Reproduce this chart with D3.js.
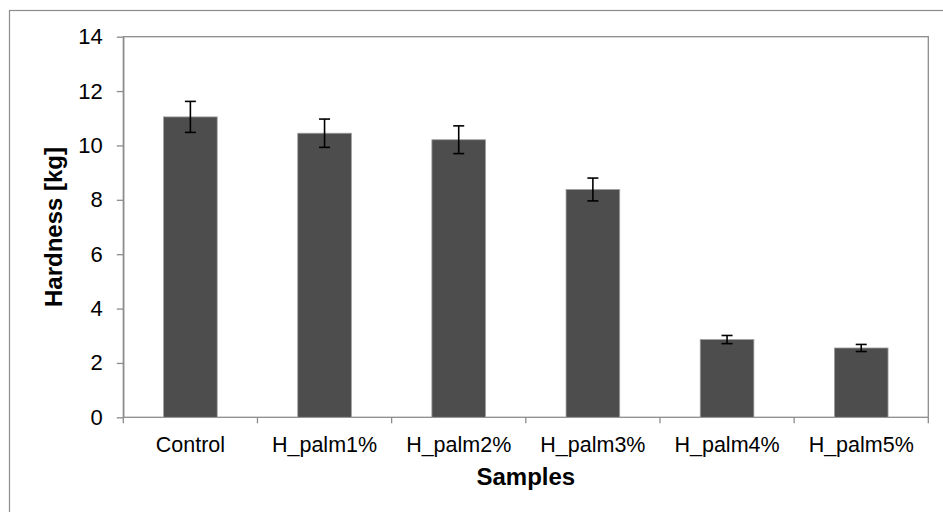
<!DOCTYPE html>
<html>
<head>
<meta charset="utf-8">
<script src="https://cdn.jsdelivr.net/npm/d3@7"></script>
<style>
body { margin: 0; background: #fff; }
svg { display: block; font-family: "Liberation Sans", Arial, sans-serif; }
</style>
</head>
<body>
<svg id="chart" width="943" height="512"></svg>
<script>
var samples = ["Control", "H_palm1%", "H_palm2%", "H_palm3%", "H_palm4%", "H_palm5%"];
var hardness = [11.05, 10.45, 10.21, 8.38, 2.86, 2.55];
var errors = [0.57, 0.52, 0.51, 0.42, 0.15, 0.13];
var yTicks = [0, 2, 4, 6, 8, 10, 12, 14];

var svg = d3.select("#chart");
// plot area edges (window.top is taken, so no "top" here)
var plotL = 123.3, plotR = 928.3, plotT = 36.7, plotB = 417.3;

// outer frame, only the left and top edges show in the picture
svg.append("rect")
	.attr("x", 9.5).attr("y", 10.5)
	.attr("width", 960).attr("height", 540)
	.attr("fill", "none").attr("stroke", "#8c8c8c").attr("stroke-width", 1.2);

var x = d3.scaleBand().domain(samples).range([plotL, plotR]).paddingInner(0.6).paddingOuter(0.3);
var y = d3.scaleLinear().domain([0, 14]).range([plotB, plotT]);

// plot frame
svg.append("rect")
	.attr("x", plotL).attr("y", plotT)
	.attr("width", plotR - plotL).attr("height", plotB - plotT)
	.attr("fill", "none").attr("stroke", "#8c8c8c").attr("stroke-width", 1.3);

svg.selectAll(".bar").data(samples).enter().append("rect")
	.attr("class", "bar")
	.attr("x", function(d){ return x(d); })
	.attr("y", function(d, i){ return y(hardness[i]); })
	.attr("width", x.bandwidth())
	.attr("height", function(d, i){ return y(0) - y(hardness[i]); })
	.attr("fill", "#4d4d4d")
	.attr("stroke", "#a0a0a0").attr("stroke-width", 0.8);

// error bars
var err = svg.selectAll(".err").data(samples).enter().append("g").attr("class", "err")
	.attr("stroke", "#000").attr("stroke-width", 1.6);
err.append("line")
	.attr("x1", function(d){ return x(d) + x.bandwidth()/2; })
	.attr("x2", function(d){ return x(d) + x.bandwidth()/2; })
	.attr("y1", function(d, i){ return y(hardness[i] + errors[i]); })
	.attr("y2", function(d, i){ return y(hardness[i] - errors[i]); });
[1, -1].forEach(function(s){
	err.append("line")
		.attr("x1", function(d){ return x(d) + x.bandwidth()/2 - 5.5; })
		.attr("x2", function(d){ return x(d) + x.bandwidth()/2 + 5.5; })
		.attr("y1", function(d, i){ return y(hardness[i] + s*errors[i]); })
		.attr("y2", function(d, i){ return y(hardness[i] + s*errors[i]); });
});

// y axis
var yAxis = svg.append("g").attr("transform", "translate(" + plotL + ",0)")
	.call(d3.axisLeft(y).tickValues(yTicks).tickSize(6.5).tickPadding(14).tickSizeOuter(0));
yAxis.select(".domain").attr("stroke", "#8c8c8c").attr("stroke-width", 1.3);
yAxis.selectAll(".tick line").attr("stroke", "#8c8c8c").attr("stroke-width", 1.3);
yAxis.selectAll("text").attr("font-size", "22px").attr("fill", "#000")
	.attr("font-family", "Liberation Sans, Arial, sans-serif");

// x axis labels
var xAxis = svg.append("g").attr("transform", "translate(0," + plotB + ")")
	.call(d3.axisBottom(x).tickSize(0).tickPadding(19.7));
xAxis.select(".domain").remove();
xAxis.selectAll("text").attr("font-size", "21.5px").attr("fill", "#000")
	.attr("font-family", "Liberation Sans, Arial, sans-serif");

// x ticks at category boundaries
svg.selectAll(".xb").data(d3.range(samples.length + 1)).enter().append("line")
	.attr("x1", function(i){ return plotL + i*x.step(); })
	.attr("x2", function(i){ return plotL + i*x.step(); })
	.attr("y1", plotB).attr("y2", plotB + 6)
	.attr("stroke", "#8c8c8c").attr("stroke-width", 1.3);

svg.append("text")
	.attr("x", (plotL + plotR)/2).attr("y", 485)
	.attr("text-anchor", "middle")
	.attr("font-size", "24px").attr("font-weight", "bold")
	.text("Samples");

svg.append("text")
	.attr("transform", "translate(62," + (plotT + plotB)/2 + ") rotate(-90)")
	.attr("text-anchor", "middle")
	.attr("font-size", "24px").attr("font-weight", "bold")
	.text("Hardness [kg]");
</script>
</body>
</html>
